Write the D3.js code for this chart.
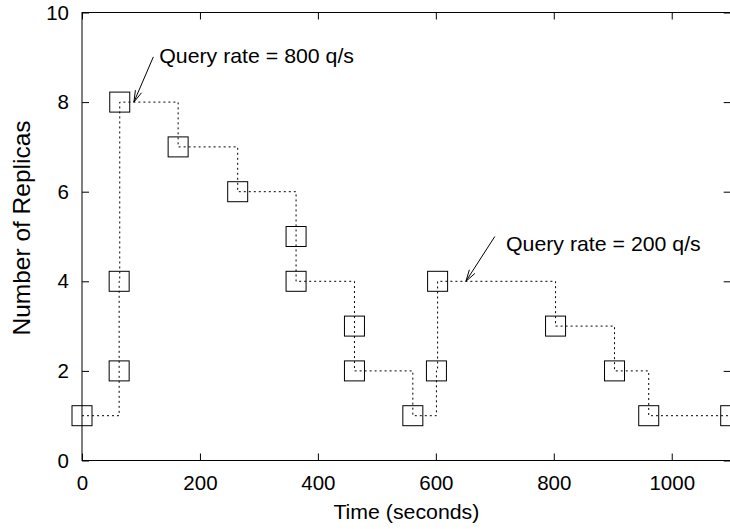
<!DOCTYPE html>
<html>
<head>
<meta charset="utf-8">
<script src="https://cdn.jsdelivr.net/npm/d3@7"></script>
<style>
  html, body { margin: 0; padding: 0; background: #fff; }
  svg { display: block; }
  text { font-family: "Liberation Sans", Arial, Helvetica, sans-serif; fill: #000; }
</style>
</head>
<body>
<svg id="chart" width="730" height="529"></svg>
<script>
// ---- data ----
const times    = [0, 63, 63, 64, 163, 264, 363, 363, 462, 462, 561, 601, 603, 803, 903, 961, 1100];
const replicas = [1, 2, 4, 8, 7, 6, 5, 4, 3, 2, 1, 2, 4, 3, 2, 1, 1];
const xTicks = [0, 200, 400, 600, 800, 1000];
const yTicks = [0, 2, 4, 6, 8, 10];
const xTitle = "Time (seconds)";
const yTitle = "Number of Replicas";
const noteTexts = ["Query rate = 800 q/s", "Query rate = 200 q/s"];
const noteTextPos = [[131, 8.87], [719, 4.67]];
const noteTail = [[121, 9.01], [700, 5.0]];
const noteTip = [[88, 8.0], [651, 4.0]];

// ---- layout ----
const L = 82, R = 730.7, T = 12.5, B = 460.5;
const svg = d3.select("#chart");
const x = d3.scaleLinear().domain([0, 1100]).range([L, R]);
const y = d3.scaleLinear().domain([0, 10]).range([B, T]);
const fs = 20;
const stretch = 1.065;

// frame
svg.append("rect").attr("x", L).attr("y", T).attr("width", R - L).attr("height", B - T)
  .attr("fill", "none").attr("stroke", "#000").attr("stroke-width", 1);

function styleAxis(g, hideText) {
  g.select(".domain").remove();
  g.selectAll(".tick line").attr("stroke", "#000").attr("stroke-width", 1);
  g.selectAll(".tick text").attr("font-size", 20.5).attr("font-family", '"Liberation Sans", Arial, sans-serif').attr("fill", "#000");
  if (hideText) g.selectAll(".tick text").remove();
}

svg.append("g").attr("transform", `translate(0,${B})`)
  .call(d3.axisBottom(x).tickValues(xTicks).tickSizeInner(-7).tickSizeOuter(0).tickPadding(14.5).tickFormat(d3.format("d")))
  .call(g => styleAxis(g, false));
svg.append("g").attr("transform", `translate(0,${T})`)
  .call(d3.axisTop(x).tickValues(xTicks).tickSizeInner(-7).tickSizeOuter(0))
  .call(g => styleAxis(g, true));
svg.append("g").attr("transform", `translate(${L},0)`)
  .call(d3.axisLeft(y).tickValues(yTicks).tickSizeInner(-7).tickSizeOuter(0).tickPadding(13).tickFormat(d3.format("d")))
  .call(g => styleAxis(g, false));
svg.append("g").attr("transform", `translate(${R},0)`)
  .call(d3.axisRight(y).tickValues(yTicks).tickSizeInner(-7).tickSizeOuter(0))
  .call(g => styleAxis(g, true));

// titles
svg.append("text").attr("transform", `translate(${(L + R) / 2},518.5) scale(${stretch},1)`).attr("text-anchor", "middle")
  .attr("font-size", fs).text(xTitle);
svg.append("text").attr("transform", `translate(30,228) rotate(-90)`).attr("text-anchor", "middle")
  .attr("font-size", 24.5).text(yTitle);

// data
const pts = times.map((t, i) => [t, replicas[i]]);
const line = d3.line().x(d => x(d[0])).y(d => y(d[1])).curve(d3.curveStepAfter);
svg.append("path").attr("d", line(pts)).attr("fill", "none").attr("stroke", "#000")
  .attr("stroke-width", 1).attr("stroke-dasharray", "2,3");

const sq = 20;
svg.append("g").selectAll("rect").data(pts).join("rect")
  .attr("x", d => x(d[0]) - sq / 2).attr("y", d => y(d[1]) - sq / 2)
  .attr("width", sq).attr("height", sq)
  .attr("fill", "none").attr("stroke", "#000").attr("stroke-width", 1);

// annotations
noteTexts.forEach((txt, i) => {
  svg.append("text").attr("transform", `translate(${x(noteTextPos[i][0])},${y(noteTextPos[i][1])}) scale(${stretch},1)`)
    .attr("font-size", fs).text(txt);
  const x1 = x(noteTail[i][0]), y1 = y(noteTail[i][1]);
  const x2 = x(noteTip[i][0]), y2 = y(noteTip[i][1]);
  svg.append("line").attr("x1", x1).attr("y1", y1).attr("x2", x2).attr("y2", y2)
    .attr("stroke", "#000").attr("stroke-width", 1);
  const ang = Math.atan2(y1 - y2, x1 - x2);
  const hl = 12, ha = 16 * Math.PI / 180;
  [ang - ha, ang + ha].forEach(a => {
    svg.append("line").attr("x1", x2).attr("y1", y2)
      .attr("x2", x2 + hl * Math.cos(a)).attr("y2", y2 + hl * Math.sin(a))
      .attr("stroke", "#000").attr("stroke-width", 1);
  });
});
</script>
</body>
</html>
